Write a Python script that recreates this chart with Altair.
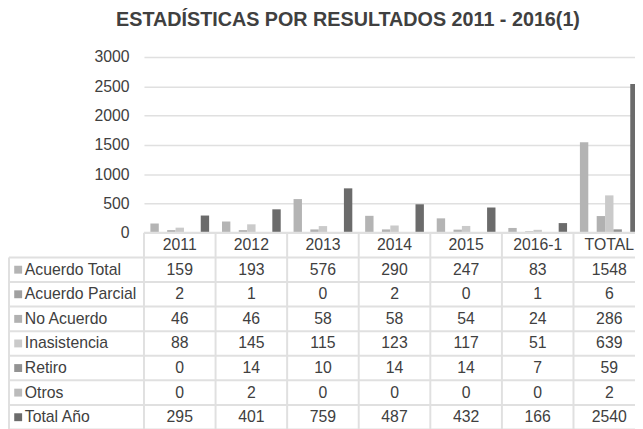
import altair as alt
import pandas as pd

# ---- data ----
categories = ["2011", "2012", "2013", "2014", "2015", "2016-1", "TOTAL"]
series = ["Acuerdo Total", "Acuerdo Parcial", "No Acuerdo", "Inasistencia",
          "Retiro", "Otros", "Total Año"]
acuerdo_total = [159, 193, 576, 290, 247, 83, 1548]
acuerdo_parcial = [2, 1, 0, 2, 0, 1, 6]
no_acuerdo = [46, 46, 58, 58, 54, 24, 286]
inasistencia = [88, 145, 115, 123, 117, 51, 639]
retiro = [0, 14, 10, 14, 14, 7, 59]
otros = [0, 2, 0, 0, 0, 0, 2]
total_anio = [295, 401, 759, 487, 432, 166, 2540]
y_ticks = [0, 500, 1000, 1500, 2000, 2500, 3000]
title_text = "ESTADÍSTICAS POR RESULTADOS 2011 - 2016(1)"

colors = ["#b4b4b4", "#a0a0a0", "#b1b1b1", "#cacaca", "#939393", "#bbbbbb", "#6b6b6b"]

values = [acuerdo_total, acuerdo_parcial, no_acuerdo, inasistencia,
          retiro, otros, total_anio]

# ---- layout constants ----
PAD_L = 137.7      # room left of the plot for axis labels and table legend
PAD_T = 47         # room above the plot for the title
VIEW_W = 635 - PAD_L   # visible plot width (the chart is cropped on the right)
VIEW_H = 421 - PAD_T   # visible height (cropped at the bottom)
XW = 507.5         # full width of the 7 category columns
H = 178            # bar area height (0..3000)
ROW_H = 24.9
N_ROWS = 8         # header + 7 series rows
LEFT = -136.7      # left border of the data table (relative to plot)
FONT = "Liberation Sans"
TXT = "#404040"
LINE = "#e0e0e0"
FS = 16

# ---- frames ----
bar_rows = []
for si, s in enumerate(series):
    for ci, c in enumerate(categories):
        bar_rows.append({"cat": c, "serie": s, "value": values[si][ci]})
bars_df = pd.DataFrame(bar_rows)

cell_rows = [{"cat": c, "row": 0.5, "label": c} for c in categories]
for si, s in enumerate(series):
    for ci, c in enumerate(categories):
        cell_rows.append({"cat": c, "row": si + 1.5, "label": str(values[si][ci])})
cells_df = pd.DataFrame(cell_rows)

legend_df = pd.DataFrame({"serie": series, "row": [i + 1.5 for i in range(len(series))]})

hline_df = pd.DataFrame({"b": list(range(1, N_ROWS + 1))})
top_df = pd.DataFrame({"b": [0]})
vline_df = pd.DataFrame({"cat": categories})

xscale = alt.Scale(domain=categories, range=[0, XW], paddingInner=0, paddingOuter=0)
tscale = alt.Scale(domain=[0, N_ROWS], range=[H, H + N_ROWS * ROW_H], nice=False, zero=False)
cscale = alt.Scale(domain=series, range=colors)

bars = alt.Chart(bars_df).mark_bar().encode(
    x=alt.X("cat:N", sort=categories, scale=xscale, axis=None),
    xOffset=alt.XOffset("serie:N", sort=series,
                        scale=alt.Scale(domain=series, paddingInner=0, paddingOuter=0.765)),
    y=alt.Y("value:Q", scale=alt.Scale(domain=[0, 3000], range=[H, 0], nice=False),
            axis=alt.Axis(values=y_ticks, format="d", grid=True, gridColor=LINE, gridWidth=1.5,
                          domain=False, ticks=False, labelPadding=15, labelFontSize=FS,
                          labelColor=TXT, labelFont=FONT, title=None)),
    color=alt.Color("serie:N", scale=cscale, legend=None),
)

cells = alt.Chart(cells_df).mark_text(font=FONT, fontSize=FS, color=TXT,
                                      baseline="middle", align="center").encode(
    x=alt.X("cat:N", sort=categories, scale=xscale, axis=None),
    y=alt.Y("row:Q", scale=tscale, axis=None),
    text="label:N",
)

swatches = alt.Chart(legend_df).mark_square(size=64, opacity=1).encode(
    x=alt.value(LEFT + 9.3),
    y=alt.Y("row:Q", scale=tscale, axis=None),
    color=alt.Color("serie:N", scale=cscale, legend=None),
)

legend_text = alt.Chart(legend_df).mark_text(font=FONT, fontSize=FS, color=TXT,
                                             baseline="middle", align="left").encode(
    x=alt.value(LEFT + 16),
    y=alt.Y("row:Q", scale=tscale, axis=None),
    text="serie:N",
)

hlines = alt.Chart(hline_df).mark_rule(color=LINE, strokeWidth=2).encode(
    x=alt.value(LEFT), x2=alt.value(XW),
    y=alt.Y("b:Q", scale=tscale, axis=None),
)
topline = alt.Chart(top_df).mark_rule(color=LINE, strokeWidth=2).encode(
    x=alt.value(0), x2=alt.value(XW),
    y=alt.Y("b:Q", scale=tscale, axis=None),
)
vlines = alt.Chart(vline_df).mark_rule(color=LINE, strokeWidth=2).encode(
    x=alt.X("cat:N", sort=categories, scale=xscale, axis=None, bandPosition=0),
    y=alt.Y(datum=0, scale=tscale, axis=None),
    y2=alt.Y2(datum=N_ROWS),
)
vleft = alt.Chart(top_df).mark_rule(color=LINE, strokeWidth=2).encode(
    x=alt.value(LEFT),
    y=alt.Y(datum=1, scale=tscale, axis=None),
    y2=alt.Y2(datum=N_ROWS),
)

chart = alt.layer(
    bars, hlines, topline, vlines, vleft, swatches, legend_text, cells
).resolve_scale(y="independent").properties(
    width=VIEW_W, height=VIEW_H,
    autosize=alt.AutoSizeParams(type="none"),
    padding={"left": PAD_L, "top": PAD_T, "right": 0, "bottom": 0},
    title=alt.TitleParams(title_text, font=FONT, fontSize=20, fontWeight="bold",
                          color=TXT, anchor="middle", frame="group", dx=-42,
                          baseline="alphabetic", offset=3),
).configure_view(stroke=None)

chart.save("out.html", embed_options={"renderer": "svg", "actions": False})
